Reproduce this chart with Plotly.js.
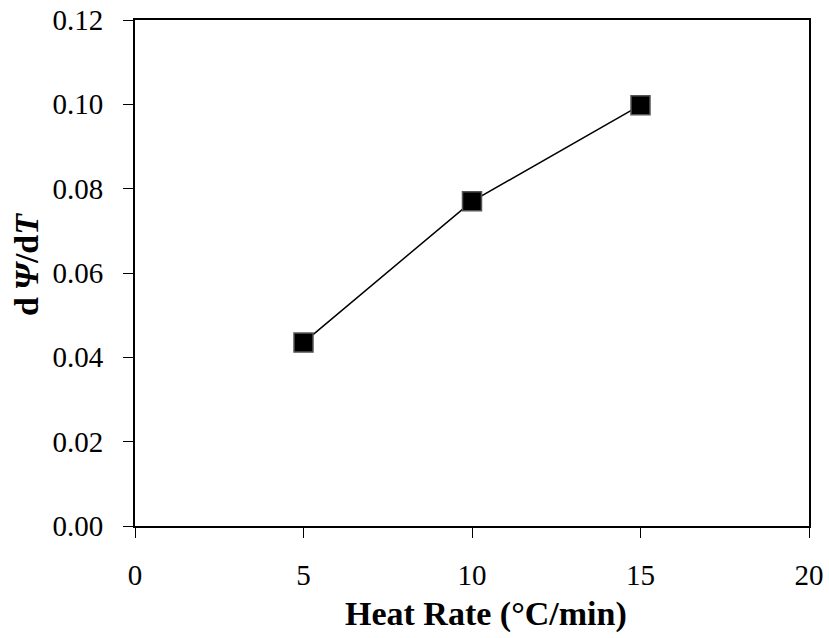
<!DOCTYPE html>
<html>
<head>
<meta charset="utf-8">
<script src="https://cdn.plot.ly/plotly-3.0.1.min.js"></script>
<style>html,body{margin:0;padding:0;background:#fff;}</style>
</head>
<body>
<div id="chart" style="width:829px;height:638px;"></div>
<script>
const heatRate = [5, 10, 15];
const dPsidT = [0.0435, 0.077, 0.0998];
const xTicks = [0, 5, 10, 15, 20];
const yTicks = [0, 0.02, 0.04, 0.06, 0.08, 0.10, 0.12];

const font = 'Liberation Serif, Times New Roman, serif';

const trace = {
  x: heatRate,
  y: dPsidT,
  type: 'scatter',
  mode: 'lines+markers',
  line: {color: '#000', width: 1.5},
  marker: {symbol: 'square', size: 19, color: '#000', line: {color: '#555', width: 1.5}},
  cliponaxis: false,
  showlegend: false
};

const layout = {
  width: 829, height: 638,
  margin: {l: 135, r: 20, t: 20, b: 112},
  paper_bgcolor: '#fff', plot_bgcolor: '#fff',
  font: {family: font, color: '#000', size: 29},
  xaxis: {
    range: [0, 20], tickvals: xTicks, ticktext: xTicks.map(String),
    showgrid: false, zeroline: false,
    showline: true, linecolor: '#000', linewidth: 2, mirror: true,
    ticks: 'outside', ticklen: 10, tickcolor: '#000', tickwidth: 1,
    ticklabelstandoff: 12,
    tickfont: {family: font, size: 29, color: '#000'}
  },
  yaxis: {
    range: [0, 0.12], tickvals: yTicks, ticktext: yTicks.map(v => v.toFixed(2)),
    showgrid: false, zeroline: false,
    showline: true, linecolor: '#000', linewidth: 2, mirror: true,
    ticks: 'outside', ticklen: 10, tickcolor: '#000', tickwidth: 1,
    ticklabelstandoff: 14,
    tickfont: {family: font, size: 29, color: '#000'}
  },
  annotations: [{
    xref: 'paper', yref: 'paper', x: 0.5, y: 0, xshift: 14, yshift: -88,
    xanchor: 'center', yanchor: 'middle', showarrow: false,
    text: '<b>Heat Rate (°C/min)</b>',
    font: {family: font, size: 34, color: '#000'}
  }, {
    xref: 'paper', yref: 'paper', x: 0, y: 0.5, xshift: -109, yshift: 8,
    xanchor: 'center', yanchor: 'middle', showarrow: false, textangle: -90,
    text: '<b>d\u2009<i>Ψ</i>/d<i>T</i></b>',
    font: {family: font, size: 34, color: '#000'}
  }]
};

Plotly.newPlot('chart', [trace], layout, {displayModeBar: false, staticPlot: true});
</script>
</body>
</html>
